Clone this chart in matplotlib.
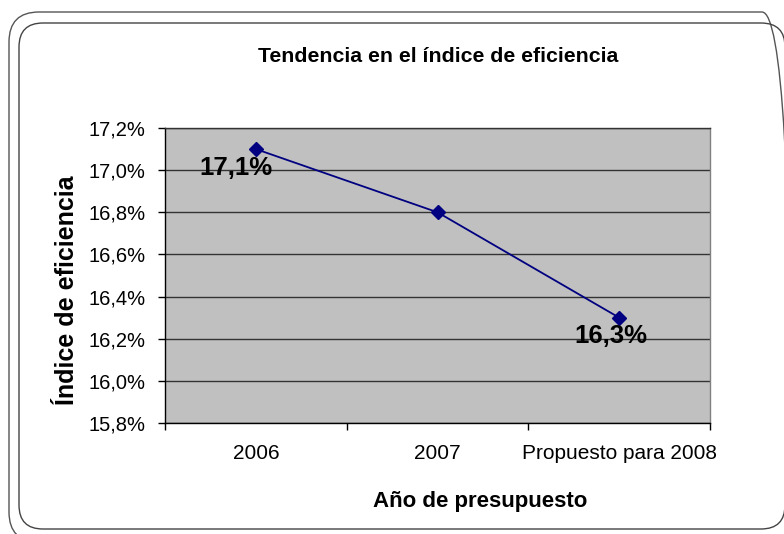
import matplotlib
matplotlib.use('Agg')
import matplotlib.pyplot as plt
from matplotlib.patches import FancyBboxPatch
from matplotlib.ticker import FuncFormatter

categories = ['2006', '2007', 'Propuesto para 2008']
efficiency = [17.1, 16.8, 16.3]
point_labels = ['17,1%', '', '16,3%']

plt.rcParams['font.family'] = ['Liberation Sans', 'DejaVu Sans']

W, H = 784, 534
fig = plt.figure(figsize=(W / 100, H / 100), dpi=100)
fig.patch.set_facecolor('white')

# plot area in pixel terms of the reference
left, top, right, bottom = 165, 128, 710, 423
ax = fig.add_axes([left / W, 1 - bottom / H, (right - left) / W, (bottom - top) / H])
ax.set_facecolor('#c0c0c0')

x = list(range(len(categories)))
ax.plot(x, efficiency, color='#000080', lw=1.3, marker='D', markersize=7,
        markerfacecolor='#000080', markeredgecolor='#000080', zorder=3)

ax.annotate(point_labels[0], (x[0], efficiency[0]), xytext=(-14, -13.5),
            textcoords='offset points', ha='center', va='center',
            fontsize=18.5, fontweight='bold')
ax.annotate(point_labels[2], (x[2], efficiency[2]), xytext=(-6, -13.5),
            textcoords='offset points', ha='center', va='center',
            fontsize=18.5, fontweight='bold')

ax.set_ylim(15.8, 17.2)
ax.set_yticks([15.8 + 0.2 * i for i in range(8)])
ax.yaxis.set_major_formatter(FuncFormatter(lambda v, p: ('%.1f%%' % v).replace('.', ',')))
ax.grid(axis='y', color='#333333', lw=1)
ax.set_axisbelow(True)

ax.set_xlim(-0.5, len(categories) - 0.5)
ax.set_xticks([i - 0.5 for i in range(len(categories) + 1)])
ax.set_xticklabels([])
ax.set_xticks(x, minor=True)
ax.set_xticklabels(categories, minor=True)
ax.tick_params(axis='x', which='minor', length=0, pad=15, labelsize=15)
ax.tick_params(axis='x', which='major', length=5, width=1, color='black')
ax.tick_params(axis='y', length=5, width=1, pad=9, labelsize=14.5)

ax.spines['left'].set_color('black')
ax.spines['bottom'].set_color('black')
ax.spines['top'].set_color('#333333')
ax.spines['right'].set_color('#808080')
for s in ax.spines.values():
    s.set_linewidth(1)

fig.text(438 / W, 1 - 56 / H, 'Tendencia en el índice de eficiencia',
         ha='center', va='center', fontsize=15.3, fontweight='bold')
fig.text(480 / W, 1 - 501 / H, 'Año de presupuesto',
         ha='center', va='center', fontsize=16, fontweight='bold')
fig.text(67 / W, 1 - 290 / H, 'Índice de eficiencia', rotation=90,
         ha='center', va='center', fontsize=18, fontweight='bold')

# chart frames (shadow + border), drawn in pixel coords
outer = FancyBboxPatch((9, H - 542), 783, 530, boxstyle='round,pad=0,rounding_size=30',
                       transform=None, fill=False, ec='#555555', lw=1)
inner = FancyBboxPatch((19, H - 529), 766, 506, boxstyle='round,pad=0,rounding_size=24',
                       transform=None, fill=False, ec='#444444', lw=1)
fig.patches.extend([outer, inner])

fig.savefig('out.png', dpi=100)
